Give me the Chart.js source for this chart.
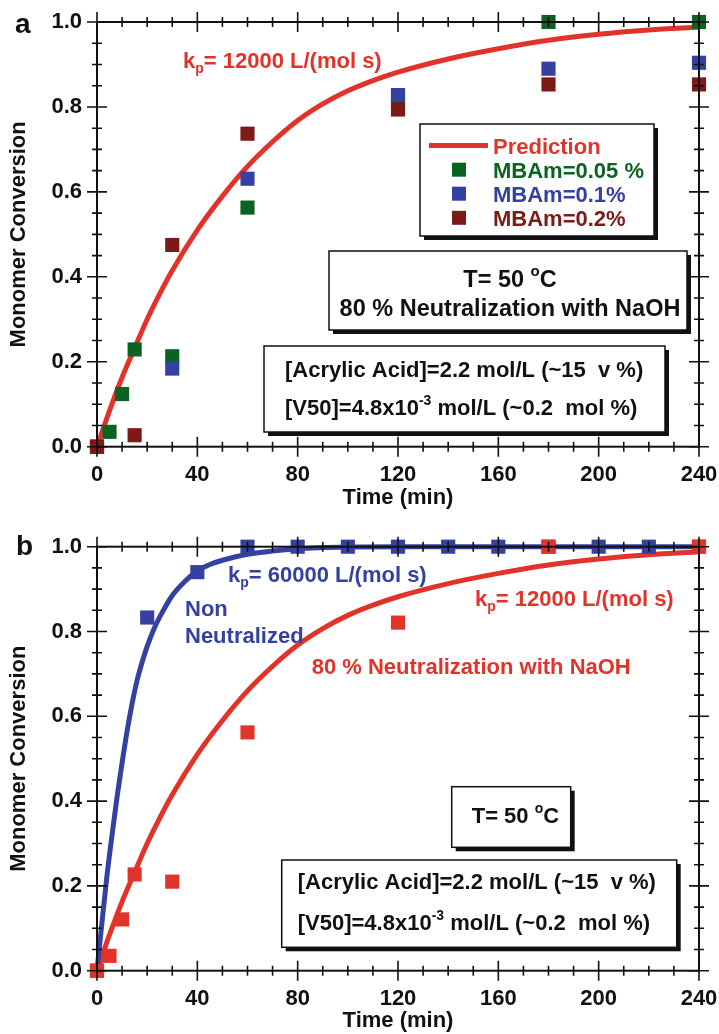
<!DOCTYPE html>
<html>
<head>
<meta charset="utf-8">
<script src="https://cdn.jsdelivr.net/npm/chart.js@4.4.0/dist/chart.umd.min.js"></script>
<style>
  html, body { margin: 0; padding: 0; background: #fff; }
  #wrap { position: relative; width: 719px; height: 1034px; overflow: hidden; }
  canvas { position: absolute; left: 0; }
  #chartA { top: 0; }
  #chartB { top: 512px; }
</style>
</head>
<body>
<div id="wrap">
  <canvas id="chartA" width="719" height="512"></canvas>
  <canvas id="chartB" width="719" height="522"></canvas>
</div>
<script>
// axis ticks
const xTicks = [0, 40, 80, 120, 160, 200, 240];
const yTicks = [0, 0.2, 0.4, 0.6, 0.8, 1.0];

// panel a: measured conversion for the three crosslinker levels
const tMBAm005 = [0, 5, 10, 15, 30, 60, 120, 180, 240];
const vMBAm005 = [0, 0.035, 0.124, 0.229, 0.213, 0.563, 0.821, 1.0, 1.0];
const tMBAm01 = [0, 30, 60, 120, 180, 240];
const vMBAm01 = [0, 0.184, 0.631, 0.828, 0.890, 0.904];
const tMBAm02 = [0, 15, 30, 60, 120, 180, 240];
const vMBAm02 = [0, 0.027, 0.475, 0.737, 0.794, 0.853, 0.853];

// prediction, kp = 12000 L/(mol s)
const tPred12k = [0, 5, 10, 15, 20, 25, 30, 40, 50, 60, 70, 80, 90, 100, 110, 120, 140, 160, 180, 200, 220, 240];
const vPred12k = [0, 0.085, 0.163, 0.232, 0.30, 0.36, 0.415, 0.51, 0.59, 0.66, 0.718, 0.768, 0.807, 0.838, 0.862, 0.882, 0.913, 0.937, 0.957, 0.971, 0.981, 0.988];

// panel b: 80 % neutralized vs non neutralized
const tNeut = [0, 5, 10, 15, 30, 60, 120, 180, 240];
const vNeut = [0, 0.035, 0.121, 0.227, 0.21, 0.562, 0.821, 1.0, 1.0];
const tNonNeut = [0, 20, 40, 60, 80, 100, 120, 140, 160, 180, 200, 220, 240];
const vNonNeut = [0, 0.833, 0.94, 1.0, 1.0, 1.0, 1.0, 1.0, 1.0, 1.0, 1.0, 1.0, 1.0];

// prediction, kp = 60000 L/(mol s)
const tPred60k = [0, 2, 4, 6, 8, 10, 12, 14, 16, 18, 20, 23, 26, 30, 35, 40, 45, 50, 60, 70, 80, 100, 120, 240];
const vPred60k = [0, 0.115, 0.225, 0.32, 0.41, 0.49, 0.565, 0.63, 0.685, 0.728, 0.765, 0.81, 0.845, 0.885, 0.918, 0.943, 0.958, 0.968, 0.982, 0.99, 0.995, 0.999, 1.0, 1.0];

const RED = '#e2332a';
const BLUE = '#3441a0';
const GREEN = '#0b6322';
const DARKRED = '#7b1a16';
const INK = '#111';
const FAMILY = '"Liberation Sans", Arial, Helvetica, sans-serif';

function font(size) {
    return 'bold ' + size + 'px ' + FAMILY;
}

function pts(ts, vs) {
    return ts.map((t, i) => ({ x: t, y: vs[i] }));
}

function markers(label, ts, vs, color, order) {
    return {
        label: label,
        data: pts(ts, vs),
        showLine: false,
        pointStyle: 'rect',
        pointRadius: 10,
        pointBorderWidth: 0,
        backgroundColor: color,
        borderColor: color,
        clip: false,
        order: order
    };
}

function curve(label, ts, vs, color, order) {
    return {
        label: label,
        data: pts(ts, vs),
        showLine: true,
        pointRadius: 0,
        borderWidth: 5,
        borderColor: color,
        backgroundColor: color,
        cubicInterpolationMode: 'monotone',
        clip: false,
        order: order
    };
}

// mixed text with sub/superscripts, parts are strings or {text, sub|sup}
function richText(ctx, x, y, parts, color, size, align) {
    size = size || 22;
    const small = Math.round(size * 0.64);
    parts = parts.map(p => typeof p === 'string' ? { text: p } : p);
    const widths = parts.map(p => {
        ctx.font = font(p.sub || p.sup ? small : size);
        return ctx.measureText(p.text).width;
    });
    const total = widths.reduce((s, w) => s + w, 0);
    let cx = align === 'center' ? x - total / 2 : x;
    ctx.fillStyle = color;
    ctx.textAlign = 'left';
    ctx.textBaseline = 'alphabetic';
    parts.forEach((p, i) => {
        ctx.font = font(p.sub || p.sup ? small : size);
        const dy = p.sub ? size * 0.22 : p.sup ? -size * 0.45 : 0;
        ctx.fillText(p.text, cx, y + dy);
        cx += widths[i];
    });
}

function shadowBox(ctx, x, y, w, h) {
    ctx.fillStyle = INK;
    ctx.fillRect(x + 4, y + 4, w, h);
    ctx.fillStyle = '#fff';
    ctx.fillRect(x, y, w, h);
    ctx.lineWidth = 1.5;
    ctx.strokeStyle = INK;
    ctx.strokeRect(x, y, w, h);
}

// closed frame with crossing ticks on all four sides
const frameTicks = {
    id: 'frameTicks',
    afterDatasetsDraw(chart) {
        const { ctx, chartArea: a, scales: { x, y } } = chart;
        ctx.save();
        ctx.strokeStyle = INK;
        ctx.lineWidth = 2;
        ctx.strokeRect(a.left, a.top, a.right - a.left, a.bottom - a.top);
        ctx.lineWidth = 1.6;
        ctx.beginPath();
        for (let v = 0; v <= 240; v += 10) {
            const px = x.getPixelForValue(v);
            const len = v % 40 === 0 ? 10 : 5;
            ctx.moveTo(px, a.bottom - len); ctx.lineTo(px, a.bottom + len);
            ctx.moveTo(px, a.top - len); ctx.lineTo(px, a.top + len);
        }
        for (let i = 0; i <= 20; i++) {
            const py = y.getPixelForValue(i * 0.05);
            const len = i % 4 === 0 ? 10 : 5;
            ctx.moveTo(a.left - len, py); ctx.lineTo(a.left + len, py);
            ctx.moveTo(a.right - len, py); ctx.lineTo(a.right + len, py);
        }
        ctx.stroke();
        ctx.restore();
    }
};

function notesPlugin(draw) {
    return {
        id: 'notes',
        afterDraw(chart) {
            const ctx = chart.ctx;
            ctx.save();
            draw(ctx, chart);
            ctx.restore();
        }
    };
}

function baseOptions(padTop, height, areaBottom, titlePadBottom) {
    return {
        responsive: false,
        animation: false,
        events: [],
        layout: { padding: { top: padTop, right: 20, left: 0, bottom: 0 } },
        plugins: { legend: { display: false }, tooltip: { enabled: false } },
        scales: {
            x: {
                type: 'linear',
                min: 0,
                max: 240,
                grid: { display: false, drawTicks: false },
                border: { display: false },
                afterBuildTicks: s => { s.ticks = xTicks.map(v => ({ value: v })); },
                afterFit: s => {
                    s.height = height - areaBottom;
                    s.paddingLeft = 0;
                    s.paddingRight = 0;
                },
                ticks: {
                    autoSkip: false,
                    maxRotation: 0,
                    padding: 15,
                    color: INK,
                    font: { family: FAMILY, size: 22, weight: 'bold' },
                    callback: v => String(v)
                },
                title: {
                    display: true,
                    text: 'Time (min)',
                    color: INK,
                    padding: { top: 0, bottom: titlePadBottom },
                    font: { family: FAMILY, size: 22, weight: 'bold' }
                }
            },
            y: {
                type: 'linear',
                min: 0,
                max: 1,
                grid: { display: false, drawTicks: false },
                border: { display: false },
                afterBuildTicks: s => { s.ticks = yTicks.map(v => ({ value: v })); },
                afterFit: s => {
                    s.width = 97;
                    s.paddingTop = 0;
                    s.paddingBottom = 0;
                },
                ticks: {
                    autoSkip: false,
                    padding: 15,
                    color: INK,
                    font: { family: FAMILY, size: 22, weight: 'bold' },
                    callback: v => v.toFixed(1)
                },
                title: {
                    display: true,
                    text: 'Monomer Conversion',
                    color: INK,
                    padding: { top: 6, bottom: 0 },
                    font: { family: FAMILY, size: 22, weight: 'bold' }
                }
            }
        }
    };
}

// ---- panel a ----
const notesA = notesPlugin(ctx => {
    ctx.fillStyle = INK;
    ctx.font = font(28);
    ctx.textAlign = 'left';
    ctx.textBaseline = 'alphabetic';
    ctx.fillText('a', 15, 33);

    richText(ctx, 183, 68, ['k', { text: 'p', sub: true }, '= 12000 L/(mol s)'], RED);

    // legend
    shadowBox(ctx, 420, 124, 234, 112);
    ctx.strokeStyle = RED;
    ctx.lineWidth = 5;
    ctx.beginPath();
    ctx.moveTo(429, 145.5);
    ctx.lineTo(488, 145.5);
    ctx.stroke();
    richText(ctx, 493, 153.5, ['Prediction'], RED);
    const rows = [['MBAm=0.05 %', GREEN, 169.7], ['MBAm=0.1%', BLUE, 193.7], ['MBAm=0.2%', DARKRED, 217.8]];
    rows.forEach(r => {
        ctx.fillStyle = r[1];
        ctx.fillRect(452, r[2] - 7, 14, 14);
        richText(ctx, 493, r[2] + 8, [r[0]], r[1]);
    });

    shadowBox(ctx, 329, 251, 358, 79);
    richText(ctx, 510, 286.7, ['T= 50 ', { text: 'o', sup: true }, 'C'], INK, 23.5, 'center');
    richText(ctx, 510, 315.7, ['80 % Neutralization with NaOH'], INK, 23.5, 'center');

    shadowBox(ctx, 264, 346, 401, 86);
    richText(ctx, 285, 377.3, ['[Acrylic Acid]=2.2 mol/L (~15  v %)'], INK);
    richText(ctx, 285, 415, ['[V50]=4.8x10', { text: '-3', sup: true }, ' mol/L (~0.2  mol %)'], INK);
});

new Chart(document.getElementById('chartA'), {
    type: 'scatter',
    data: {
        datasets: [
            curve('Prediction', tPred12k, vPred12k, RED, 4),
            markers('MBAm=0.05 %', tMBAm005, vMBAm005, GREEN, 3),
            markers('MBAm=0.1%', tMBAm01, vMBAm01, BLUE, 2),
            markers('MBAm=0.2%', tMBAm02, vMBAm02, DARKRED, 1)
        ]
    },
    options: baseOptions(22, 512, 446.7, 1),
    plugins: [frameTicks, notesA]
});

// ---- panel b ----
const notesB = notesPlugin(ctx => {
    ctx.fillStyle = INK;
    ctx.font = font(28);
    ctx.textAlign = 'left';
    ctx.textBaseline = 'alphabetic';
    ctx.fillText('b', 16, 43);

    richText(ctx, 228, 70, ['k', { text: 'p', sub: true }, '= 60000 L/(mol s)'], BLUE);
    richText(ctx, 185, 104, ['Non'], BLUE);
    richText(ctx, 185, 130.7, ['Neutralized'], BLUE);
    richText(ctx, 475, 94, ['k', { text: 'p', sub: true }, '= 12000 L/(mol s)'], RED);
    richText(ctx, 311.7, 162, ['80 % Neutralization with NaOH'], RED);

    shadowBox(ctx, 451.7, 274.7, 119, 60.6);
    richText(ctx, 471.7, 311.3, ['T= 50 ', { text: 'o', sup: true }, 'C'], INK);

    shadowBox(ctx, 281.7, 348, 395, 87.3);
    richText(ctx, 297.7, 377.3, ['[Acrylic Acid]=2.2 mol/L (~15  v %)'], INK);
    richText(ctx, 297.7, 418, ['[V50]=4.8x10', { text: '-3', sup: true }, ' mol/L (~0.2  mol %)'], INK);
});

new Chart(document.getElementById('chartB'), {
    type: 'scatter',
    data: {
        datasets: [
            curve('kp= 12000 L/(mol s)', tPred12k, vPred12k, RED, 4),
            curve('kp= 60000 L/(mol s)', tPred60k, vPred60k, BLUE, 3),
            markers('Non Neutralized', tNonNeut, vNonNeut, BLUE, 2),
            markers('80 % Neutralization with NaOH', tNeut, vNeut, RED, 1)
        ]
    },
    options: baseOptions(34.7, 522, 458.7, 0),
    plugins: [frameTicks, notesB]
});
</script>
</body>
</html>
